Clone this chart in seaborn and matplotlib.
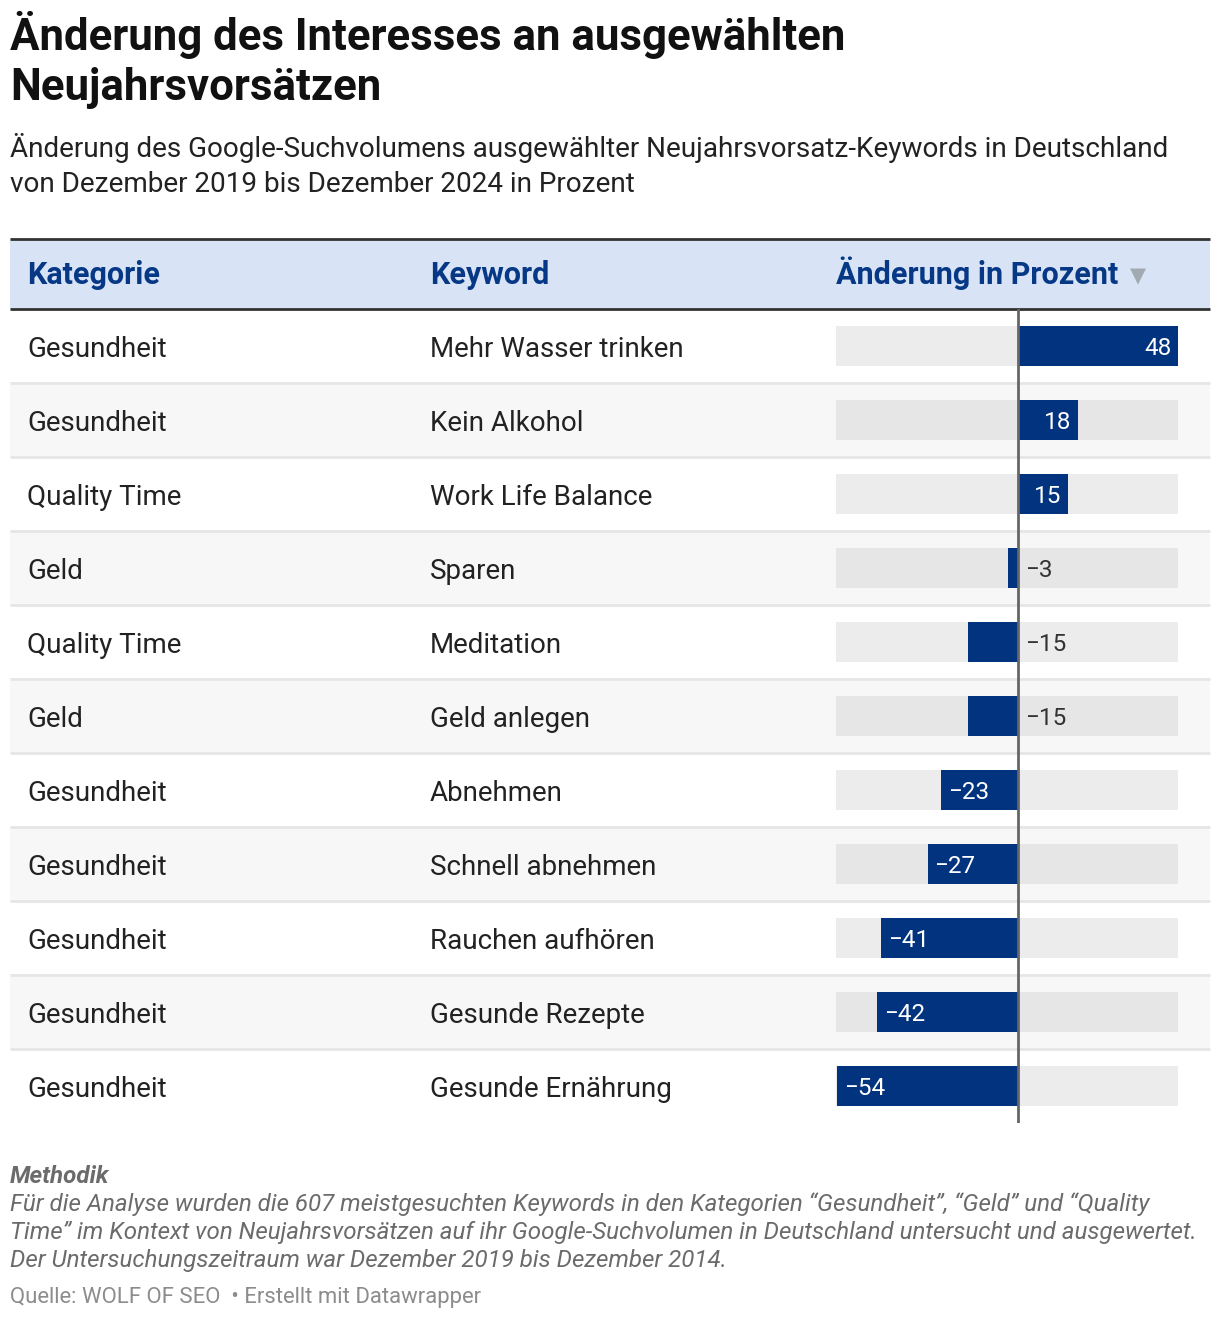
import matplotlib
matplotlib.use("Agg")
import matplotlib.pyplot as plt
import seaborn as sns
import pandas as pd

# ---------------- data ----------------
kategorie = ["Gesundheit", "Gesundheit", "Quality Time", "Geld", "Quality Time", "Geld",
             "Gesundheit", "Gesundheit", "Gesundheit", "Gesundheit", "Gesundheit"]
keywords = ["Mehr Wasser trinken", "Kein Alkohol", "Work Life Balance", "Sparen", "Meditation",
            "Geld anlegen", "Abnehmen", "Schnell abnehmen", "Rauchen aufhören",
            "Gesunde Rezepte", "Gesunde Ernährung"]
aenderung = [48, 18, 15, -3, -15, -15, -23, -27, -41, -42, -54]
spalten = ["Kategorie", "Keyword", "Änderung in Prozent"]

title = "Änderung des Interesses an ausgewählten\nNeujahrsvorsätzen"
subtitle = ("Änderung des Google-Suchvolumens ausgewählter Neujahrsvorsatz-Keywords in Deutschland\n"
            "von Dezember 2019 bis Dezember 2024 in Prozent")
notes_head = "Methodik"
notes = ["Für die Analyse wurden die 607 meistgesuchten Keywords in den Kategorien “Gesundheit”, “Geld” und “Quality",
         "Time” im Kontext von Neujahrsvorsätzen auf ihr Google-Suchvolumen in Deutschland untersucht und ausgewertet.",
         "Der Untersuchungszeitraum war Dezember 2019 bis Dezember 2014."]
source = "Quelle: WOLF OF SEO  • Erstellt mit Datawrapper"

df = pd.DataFrame({"Kategorie": kategorie, "Keyword": keywords, "Aenderung": aenderung})

# ---------------- style ----------------
sns.set_theme(style="white")
plt.rcParams['font.family'] = ['Roboto', 'DejaVu Sans']

W, H = 1220, 1320
fig = plt.figure(figsize=(W / 100, H / 100), dpi=100)
fig.patch.set_facecolor("white")

BLUE = "#01337f"
HEAD = "#063886"
TXT = "#222222"

bg = fig.add_axes([0, 0, 1, 1])
bg.set_xlim(0, W)
bg.set_ylim(H, 0)
bg.axis("off")

# title / subtitle
for i, line in enumerate(title.split("\n")):
    bg.text(10, 50 + 50 * i, line, fontsize=31.5, fontweight="bold", color="#111111", va="baseline", ha="left")
for i, line in enumerate(subtitle.split("\n")):
    bg.text(10, 157 + 34.5 * i, line, fontsize=20.1, color=TXT, va="baseline", ha="left")

# table geometry
n = len(keywords)
row_top = 309
row_h = 74
x0, x1 = 10, 1210

# header band
bg.add_patch(plt.Rectangle((x0, 239), x1 - x0, row_top - 239, color="#d8e4f6", lw=0, zorder=0))
bg.plot([x0, x1], [239, 239], color="#333333", lw=2, solid_capstyle="butt", zorder=2)
bg.plot([x0, x1], [row_top, row_top], color="#333333", lw=2, solid_capstyle="butt", zorder=2)
col_x = [27, 430, 836]
for cx, name in zip(col_x, spalten):
    bg.text(cx, 284, name, fontsize=22, fontweight="bold", color=HEAD, va="baseline", ha="left")
bg.text(1138, 282, "▼", fontsize=15, color="#a3a9b1", va="baseline", ha="center",
        family=["DejaVu Sans"])

# rows
for i in range(n):
    top = row_top + row_h * i
    if i % 2 == 1:
        bg.add_patch(plt.Rectangle((x0, top), x1 - x0, row_h, color="#f7f7f7", lw=0, zorder=0))
    if i > 0:
        bg.plot([x0, x1], [top, top], color="#e6e6e6", lw=2, solid_capstyle="butt", zorder=1)
    base = top + row_h / 2 + 11
    bg.text(col_x[0], base, kategorie[i], fontsize=20, color=TXT, va="baseline", ha="left")
    bg.text(col_x[1], base, keywords[i], fontsize=20, color=TXT, va="baseline", ha="left")

# footer
bg.text(10, 1183, notes_head, fontsize=17.4, fontweight="bold", fontstyle="italic", color="#6b6b6b", va="baseline")
for i, line in enumerate(notes):
    bg.text(10, 1211.5 + 27.8 * i, line, fontsize=17.4, fontstyle="italic", color="#6b6b6b", va="baseline")
bg.text(10, 1303, source, fontsize=15.9, color="#8c8c8c", va="baseline")

# ---------------- bar column ----------------
xmin, xmax = -54.4, 48
bx0, bx1 = 836, 1178
by0, by1 = row_top, row_top + row_h * n
ax = fig.add_axes([bx0 / W, 1 - by1 / H, (bx1 - bx0) / W, (by1 - by0) / H])
ax.patch.set_alpha(0)

track_cols = ["#ececec" if i % 2 == 0 else "#e6e6e6" for i in range(n)]
ax.barh(range(n), [xmax - xmin] * n, left=xmin, height=0.54, color=track_cols, lw=0, zorder=1)
sns.barplot(data=df, x="Aenderung", y="Keyword", orient="h", color=BLUE, saturation=1,
            width=0.54, linewidth=0, ax=ax, zorder=2)
ax.axvline(0, color="#666666", lw=2, zorder=3)
ax.set_xlim(xmin, xmax)
ax.set_ylim(n - 0.5, -0.5)
ax.set_axis_off()

px_per_unit = (bx1 - bx0) / (xmax - xmin)
for i, v in enumerate(aenderung):
    lab = str(v).replace("-", "−")
    need = len(lab) * 13 + 14
    inside = abs(v) * px_per_unit > need
    if inside:
        if v >= 0:
            ax.annotate(lab, (v, i), xytext=(-6, 0), textcoords="offset pixels", ha="right",
                        va="center_baseline", color="white", fontsize=17.5, zorder=4)
        else:
            ax.annotate(lab, (v, i), xytext=(7, 0), textcoords="offset pixels", ha="left",
                        va="center_baseline", color="white", fontsize=17.5, zorder=4)
    else:
        ax.annotate(lab, (0, i), xytext=(7, 0), textcoords="offset pixels", ha="left",
                    va="center_baseline", color="#333333", fontsize=17.5, zorder=4)

fig.savefig("out.png", dpi=100, facecolor="white")
